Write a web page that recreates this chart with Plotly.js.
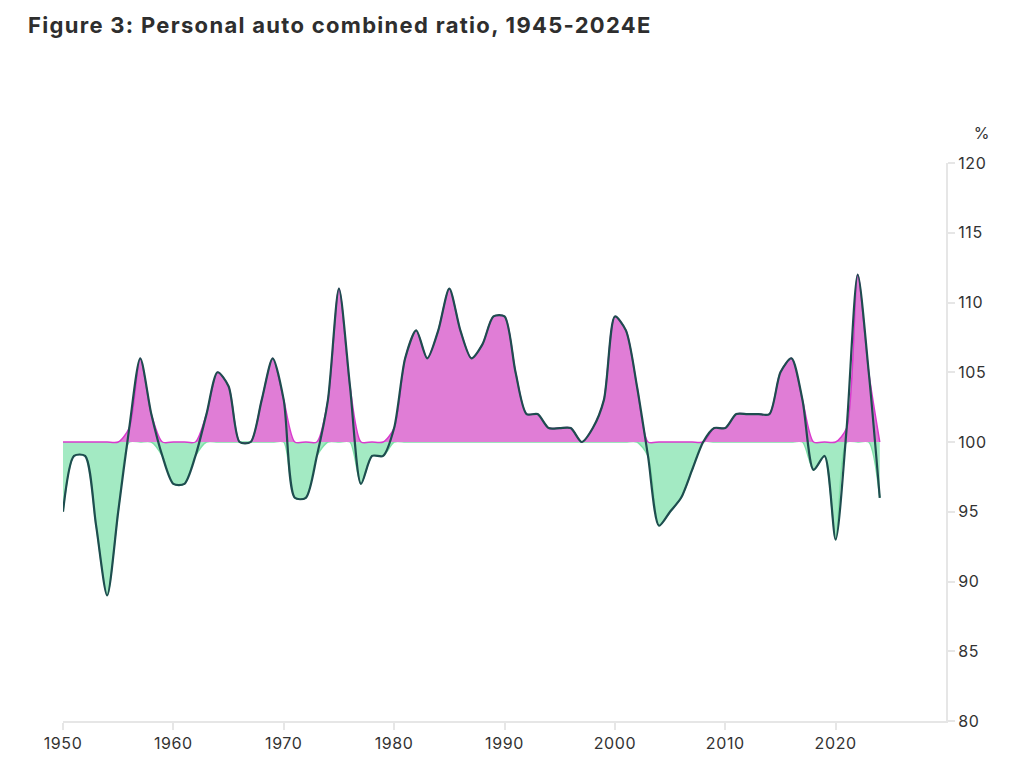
<!DOCTYPE html>
<html>
<head>
<meta charset="utf-8">
<script src="https://cdn.plot.ly/plotly-3.0.1.min.js"></script>
<style>
  html, body { margin: 0; padding: 0; background: #ffffff; }
  #chart { width: 1024px; height: 765px; }
  #chart .gtitle { letter-spacing: 1.3px; }
  #chart .xtick text, #chart .ytick text, #chart .annotation-text { letter-spacing: 0.6px; }
</style>
</head>
<body>
<div id="chart"></div>
<script>
// Personal auto combined ratio (%)
const years = [];
for (let y = 1950; y <= 2024; y++) years.push(y);

const combinedRatio = [
  95, 99, 99, 94, 89, 95, 101, 106, 102, 99,      // 1950s
  97, 97, 99, 102, 105, 104, 100, 100, 103, 106,  // 1960s
  103, 96, 96, 99, 103, 111, 104, 97, 99, 99,     // 1970s
  101, 106, 108, 106, 108, 111, 108, 106, 107, 109, // 1980s
  109, 105, 102, 102, 101, 101, 101, 100, 101, 103, // 1990s
  109, 108, 104, 99, 94, 95, 96, 98, 100, 101,    // 2000s
  101, 102, 102, 102, 102, 105, 106, 103, 98, 99, // 2010s
  93, 101, 112, 105, 96                           // 2020-2024E
];

const breakEven = 100;
const xTicks = [1950, 1960, 1970, 1980, 1990, 2000, 2010, 2020];
const yTicks = [80, 85, 90, 95, 100, 105, 110, 115, 120];

const SMOOTH = 0.75;
const FONT = 'Inter, Liberation Sans, Arial, sans-serif';

function initChart() {
  const base = years.map(() => breakEven);
  const above = combinedRatio.map(v => Math.max(v, breakEven));
  const below = combinedRatio.map(v => Math.min(v, breakEven));

  const baseTrace = {
    x: years, y: base, mode: 'lines', type: 'scatter',
    line: { width: 0, shape: 'linear' }, hoverinfo: 'skip'
  };

  const traces = [
    baseTrace,
    {
      x: years, y: below, mode: 'lines', type: 'scatter',
      fill: 'tonexty', fillcolor: '#a3eac3',
      line: { color: '#7fe0a8', width: 1.5, shape: 'spline', smoothing: SMOOTH },
      hoverinfo: 'skip'
    },
    baseTrace,
    {
      x: years, y: above, mode: 'lines', type: 'scatter',
      fill: 'tonexty', fillcolor: '#e07dd6',
      line: { color: '#d83acd', width: 1.5, shape: 'spline', smoothing: SMOOTH },
      hoverinfo: 'skip'
    },
    {
      x: years, y: combinedRatio, mode: 'lines', type: 'scatter',
      line: { color: '#1e4d4f', width: 2.2, shape: 'spline', smoothing: SMOOTH },
      hovertemplate: '%{x}: %{y}%<extra></extra>'
    }
  ];

  const layout = {
    width: 1024,
    height: 765,
    showlegend: false,
    paper_bgcolor: '#ffffff',
    plot_bgcolor: '#ffffff',
    margin: { t: 163, l: 63, r: 78, b: 44 },
    font: { family: FONT, size: 16, color: '#333333' },
    title: {
      text: 'Figure 3: Personal auto combined ratio, 1945-2024E',
      font: { family: FONT, size: 22, weight: 700, color: '#2e2e2e' },
      xref: 'container', yref: 'container',
      x: 28 / 1024, xanchor: 'left',
      y: 1 - 25 / 765, yanchor: 'middle'
    },
    xaxis: {
      range: [1950, 2030],
      tickvals: xTicks,
      ticktext: xTicks.map(String),
      showgrid: false,
      zeroline: false,
      showline: true,
      linecolor: '#e6e6e6',
      linewidth: 2,
      ticks: 'outside',
      ticklen: 7,
      tickwidth: 2,
      tickcolor: '#e6e6e6',
      tickfont: { family: FONT, size: 16, color: '#333333' },
      fixedrange: true
    },
    yaxis: {
      side: 'right',
      range: [80, 120],
      tickvals: yTicks,
      ticktext: yTicks.map(String),
      showgrid: false,
      zeroline: false,
      showline: true,
      linecolor: '#e6e6e6',
      linewidth: 2,
      ticks: 'outside',
      ticklen: 7,
      tickwidth: 2,
      tickcolor: '#e6e6e6',
      tickfont: { family: FONT, size: 16, color: '#333333' },
      fixedrange: true
    },
    annotations: [
      {
        text: '%',
        xref: 'paper', yref: 'paper',
        x: (982 - 63) / 883, y: (721 - 133) / 558,
        xanchor: 'center', yanchor: 'middle',
        showarrow: false,
        font: { family: FONT, size: 16, color: '#333333' }
      }
    ]
  };

  Plotly.newPlot('chart', traces, layout, { displayModeBar: false, responsive: false });
}

initChart();
</script>
</body>
</html>
